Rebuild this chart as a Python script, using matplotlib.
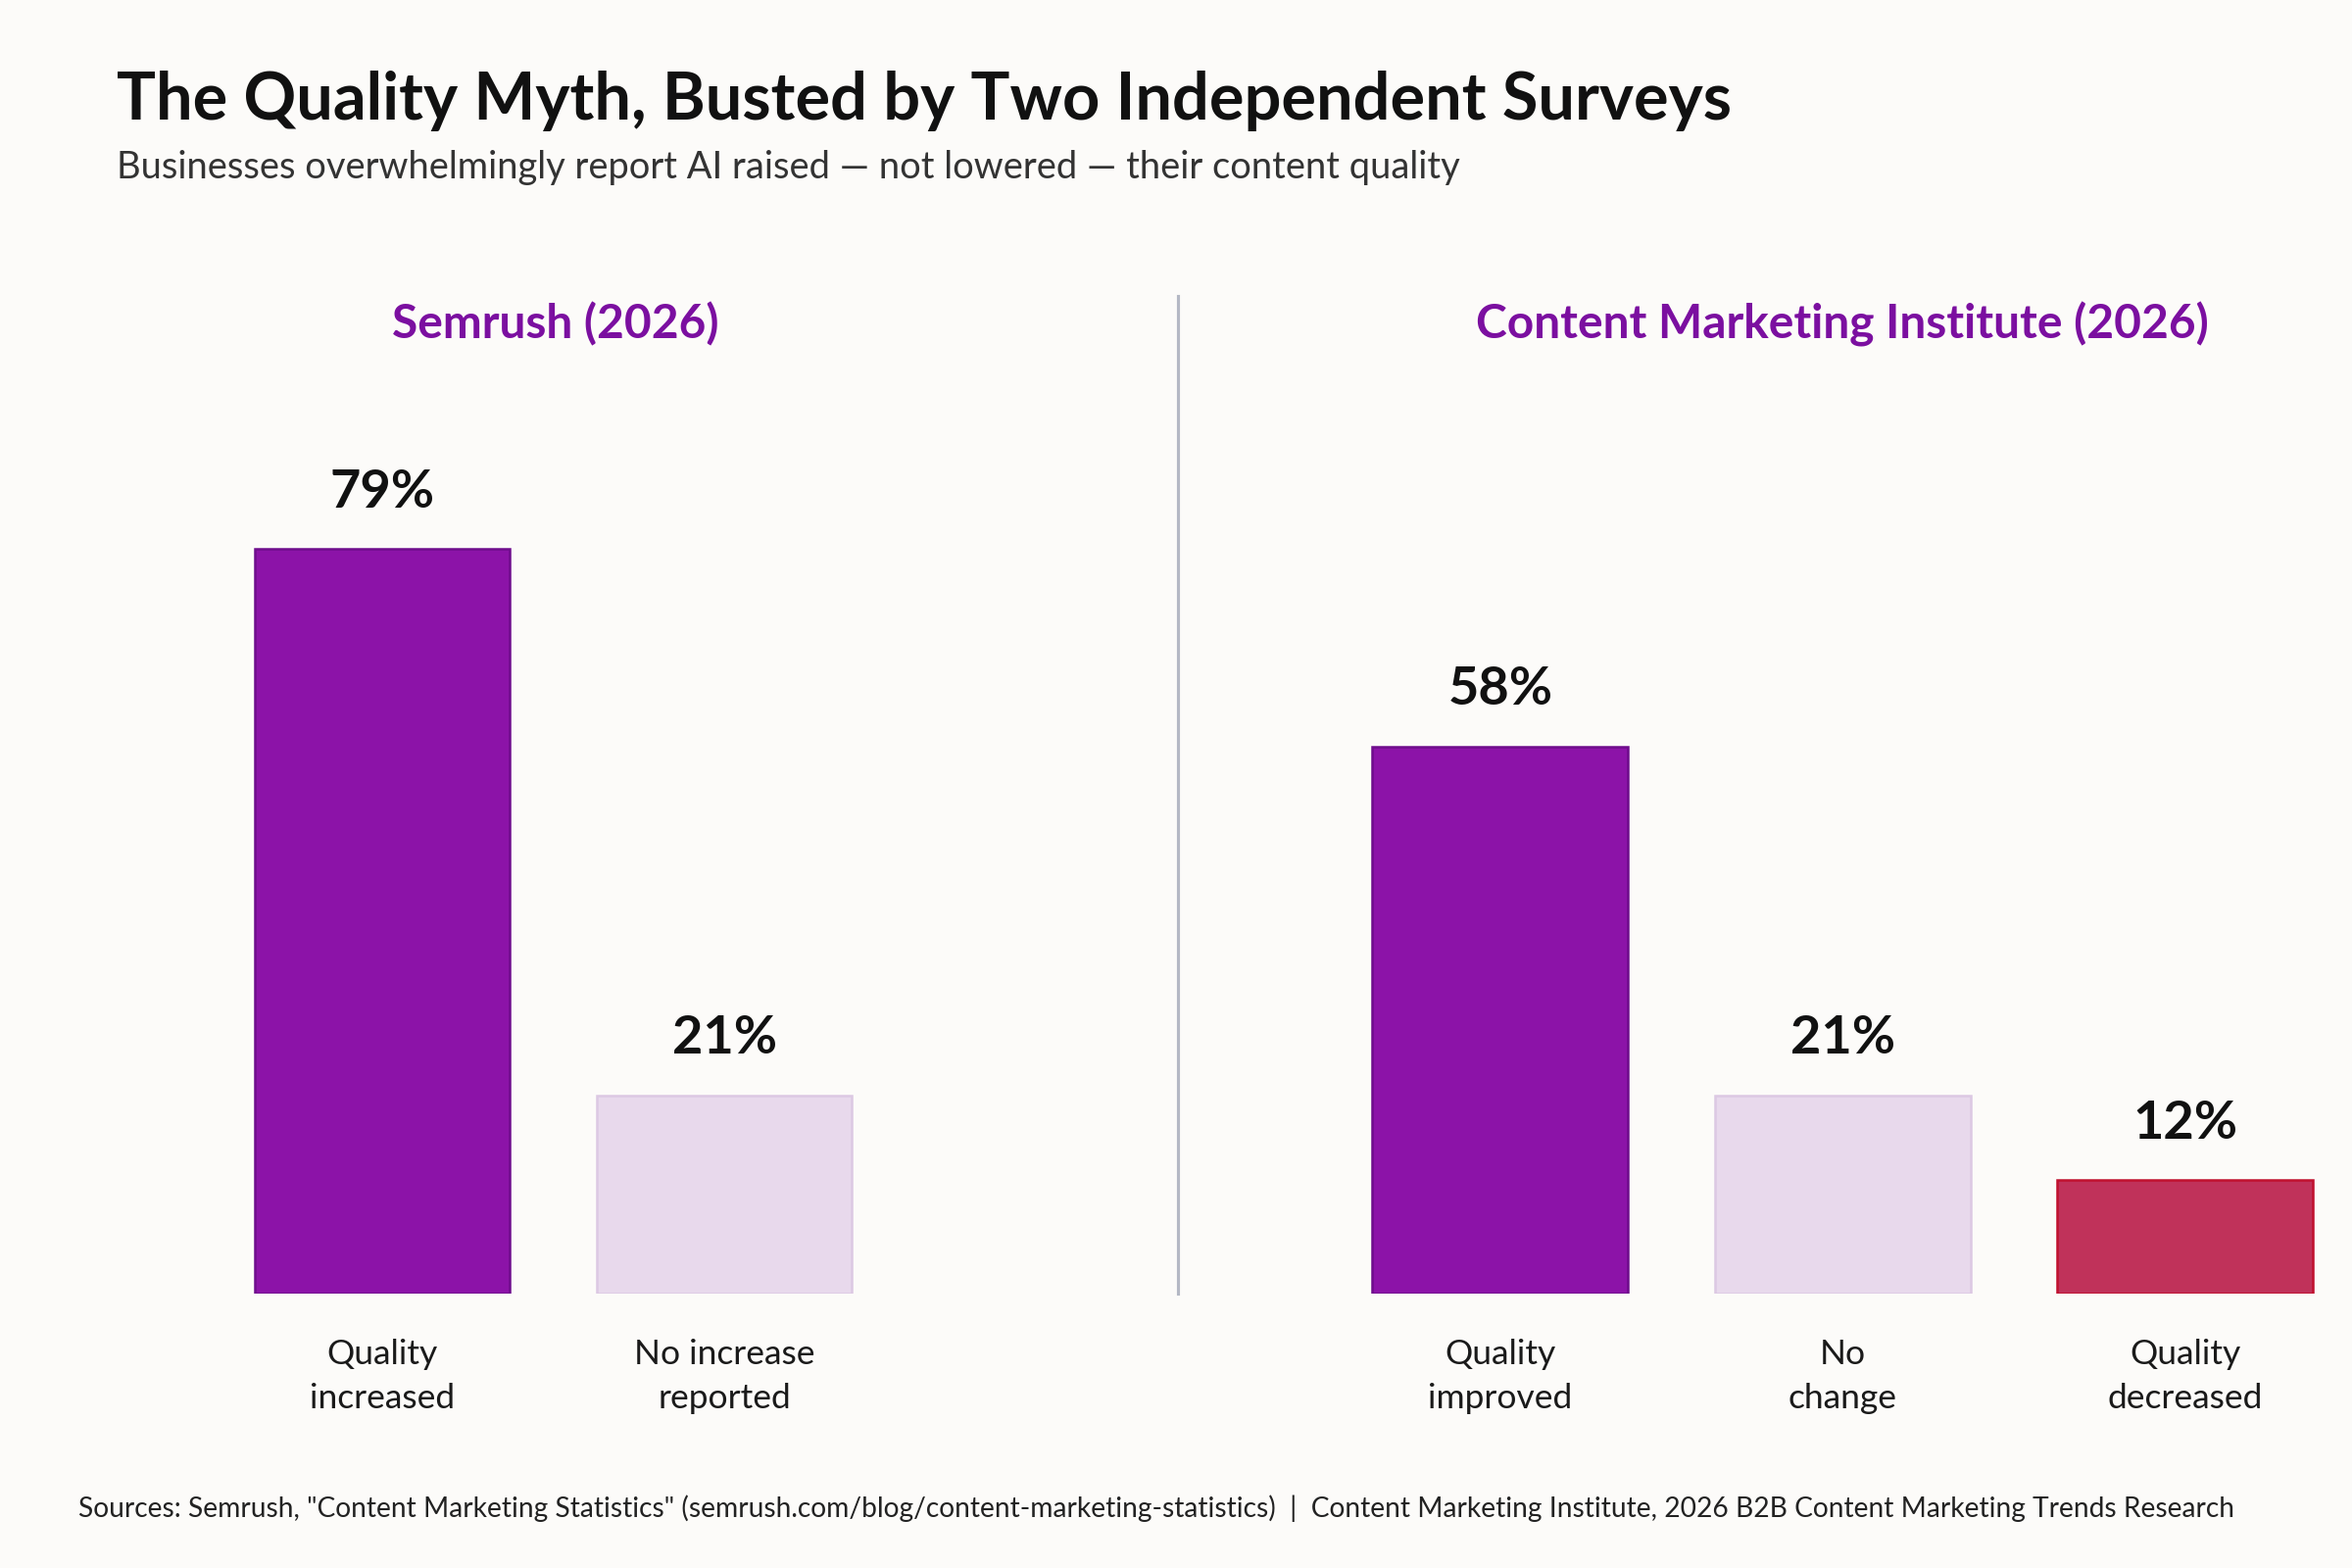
import matplotlib
matplotlib.use("Agg")
import matplotlib.pyplot as plt

plt.rcParams['font.family'] = ['Lato', 'DejaVu Sans']

# data
left_cats = ["Quality\nincreased", "No increase\nreported"]
left_vals = [79, 21]
right_cats = ["Quality\nimproved", "No\nchange", "Quality\ndecreased"]
right_vals = [58, 21, 12]

PURPLE = "#8C13A8"
LIGHT = "#E8D9EC"
RED = "#C0325A"
BG = "#FCFBF9"

W, H = 1568, 1045  # reference layout coords
fig = plt.figure(figsize=(16, 10.6667), dpi=150, facecolor=BG)

def box(x0, x1, ytop, ybot):
    return [x0 / W, 1 - ybot / H, (x1 - x0) / W, (ybot - ytop) / H]

ymax = (862 - 250) / 6.28

def panel(rect, cats, vals, colors, edges, xmax):
    ax = fig.add_axes(rect)
    ax.set_facecolor(BG)
    xs = range(len(vals))
    ax.bar(xs, vals, width=0.746, color=colors, edgecolor=edges, linewidth=1.2)
    for x, v in zip(xs, vals):
        ax.text(x, v + 3.5, f"{v}%", ha="center", va="bottom",
                fontsize=26, fontweight="bold", color="#111111")
    ax.set_xlim(-0.504, xmax)
    ax.set_ylim(0, ymax)
    ax.set_xticks(list(xs))
    ax.set_xticklabels(cats, fontsize=17, color="#1a1a1a", linespacing=1.5)
    ax.tick_params(axis="x", length=0, pad=22)
    ax.set_yticks([])
    for s in ax.spines.values():
        s.set_visible(False)
    return ax

panel(box(140, 600, 250, 862), left_cats, left_vals,
      [PURPLE, LIGHT], ["#6E0C8C", "#DCC8E3"], 1.513)
panel(box(885, 1545, 250, 862), right_cats, right_vals,
      [PURPLE, LIGHT, RED], ["#6E0C8C", "#DCC8E3", "#C0102E"], 2.386)

# divider
fig.add_artist(plt.Line2D([785 / W, 785 / W], [1 - 197 / H, 1 - 862 / H],
                          color="#B4B8C4", linewidth=1.5))

fig.text(78 / W, 1 - 67 / H, "The Quality Myth, Busted by Two Independent Surveys",
         fontsize=32, fontweight="bold", color="#111111", va="center")
fig.text(78 / W, 1 - 112 / H,
         "Businesses overwhelmingly report AI raised \u2014 not lowered \u2014 their content quality",
         fontsize=18.3, color="#333333", va="center")
fig.text(370 / W, 1 - 216 / H, "Semrush (2026)", fontsize=23, fontweight="bold",
         color="#7B0FA0", ha="center", va="center")
fig.text(1228 / W, 1 - 216 / H, "Content Marketing Institute (2026)", fontsize=23,
         fontweight="bold", color="#7B0FA0", ha="center", va="center")
fig.text(52 / W, 1 - 1005 / H,
         'Sources: Semrush, "Content Marketing Statistics" (semrush.com/blog/content-marketing-statistics)  |  '
         'Content Marketing Institute, 2026 B2B Content Marketing Trends Research',
         fontsize=13.5, color="#222222", va="center")

fig.savefig("out.png", dpi=150, facecolor=BG)
